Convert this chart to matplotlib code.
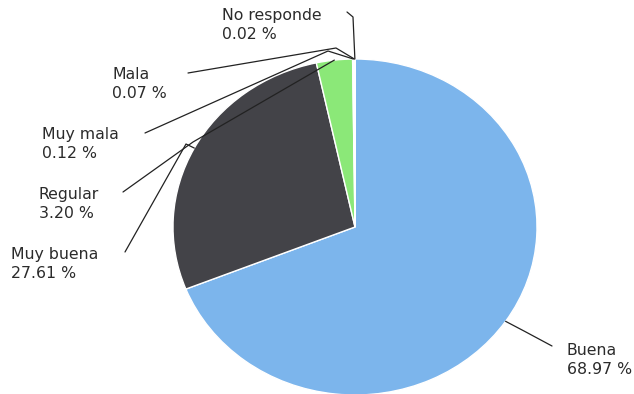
import matplotlib
matplotlib.use("Agg")
import matplotlib.pyplot as plt
import numpy as np

# Encuesta: calificación del servicio
categorias = ["Buena", "Muy buena", "Regular", "Muy mala", "Mala", "No responde"]
porcentajes = [68.97, 27.61, 3.20, 0.12, 0.07, 0.02]
colores = ["#7cb5ec", "#434348", "#8be878", "#f7a35c", "#8085e9", "#f15c80"]

W, H = 634, 394
CX, CY = 355, 227      # centre of the pie, in pixels
RX, RY = 182, 168      # horizontal / vertical radius, in pixels


def to_data(px, py):
    return (px - CX) / RX, (CY - py) / RY


# label top-left corner and connector route (pixels)
LABEL_POS = {
    "Buena": (567, 343),
    "Muy buena": (11, 247),
    "Regular": (39, 187),
    "Muy mala": (42, 127),
    "Mala": (112, 67),
    "No responde": (222, 8),
}
CONNECTOR = {
    "Buena": [(552, 346), (524, 331)],
    "Muy buena": [(125, 252), (186, 144)],
    "Regular": [(123, 192), (193, 142)],
    "Muy mala": [(145, 133), (328, 51)],
    "Mala": [(188, 73), (336, 48)],
    "No responde": [(347, 12), (353, 17)],
}

fig = plt.figure(figsize=(W / 100, H / 100), dpi=100)
ax = fig.add_axes([0, 0, 1, 1])

wedges, _ = ax.pie(
    porcentajes,
    colors=colores,
    startangle=90,
    counterclock=False,
    radius=1.0,
    wedgeprops=dict(edgecolor="white", linewidth=1.0),
)

ax.set_xlim(-CX / RX, (W - CX) / RX)
ax.set_ylim(-(H - CY) / RY, CY / RY)
ax.set_aspect("auto")
ax.axis("off")

for w, cat, pct in zip(wedges, categorias, porcentajes):
    mid = np.deg2rad((w.theta1 + w.theta2) / 2)
    tip = (np.cos(mid), np.sin(mid))
    pts = [to_data(*p) for p in CONNECTOR[cat]] + [tip]
    xs, ys = zip(*pts)
    ax.plot(xs, ys, color="#222222", lw=0.9, solid_capstyle="round")

    lx, ly = to_data(*LABEL_POS[cat])
    ax.text(lx, ly, f"{cat}\n{pct:.2f} %", ha="left", va="top",
            fontsize=11.3, color="#2b2b2b", linespacing=1.32,
            family="DejaVu Sans")

fig.savefig("out.png", dpi=100)
